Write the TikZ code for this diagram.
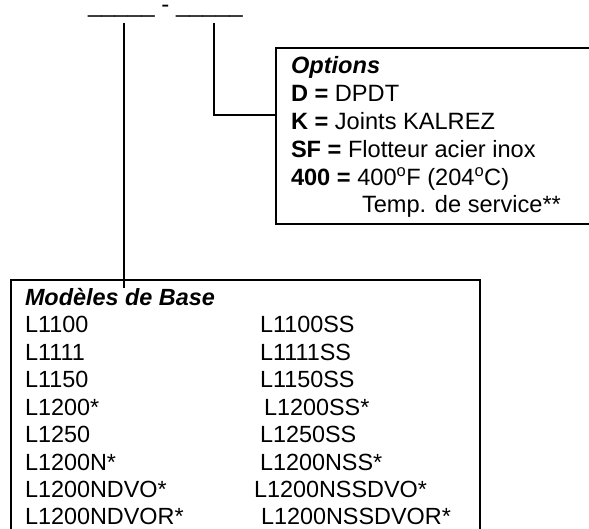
\documentclass[tikz,border=0pt]{standalone}
\usepackage{fontspec}
\setmainfont{Liberation Sans}
\begin{document}
\begin{tikzpicture}[x=1pt,y=-1pt,
  txt/.style={anchor=base west,inner sep=0pt,outer sep=0pt},
  optf/.style={font=\fontsize{23.6}{27}\selectfont},
  basef/.style={font=\fontsize{23.4}{27}\selectfont},
  boxline/.style={draw,line width=1.7pt,inner sep=0pt,anchor=north west},
  conn/.style={line width=1.3pt}]
\useasboundingbox (0,0) rectangle (589,529);
\clip (0,0) rectangle (589,529);
% code line
\node[txt,font=\fontsize{24}{28}\selectfont] (code) at (88,13) {\_\_\_\_\_ - \_\_\_\_\_};
\coordinate (ltop) at (124,23);
\coordinate (lend) at (124,288);
\coordinate (rtop) at (214,23);
\coordinate (rjoin) at (275,115);
% options box
\node[boxline,minimum width=340pt,minimum height=176pt] (optbox) at (275,47) {};
\node[txt,optf] (opt0) at (291,74) {\textbf{\textit{Options}}};
\node[txt,optf] (opt1) at (291,102) {\textbf{D =} DPDT};
\node[txt,optf] (opt2) at (291,130) {\textbf{K =} Joints KALREZ};
\node[txt,optf] (opt3) at (291,158) {\textbf{SF =} Flotteur acier inox};
\node[txt,optf] (opt4) at (291,186) {\textbf{400 =} 400\textsuperscript{o}F (204\textsuperscript{o}C)};
\node[txt,optf] (opt5) at (362,213) {Temp. de service**};
% base box
\node[boxline,minimum width=469pt,minimum height=290pt] (basebox) at (10,279) {};
\node[txt,basef] (bt) at (25,306) {\textbf{\textit{Modèles de Base}}};
\node[txt,basef] (a1) at (25,333) {L1100};
\node[txt,basef] (a2) at (25,360.4) {L1111};
\node[txt,basef] (a3) at (25,387.8) {L1150};
\node[txt,basef] (a4) at (25,415.2) {L1200*};
\node[txt,basef] (a5) at (25,442.6) {L1250};
\node[txt,basef] (a6) at (25,470) {L1200N*};
\node[txt,basef] (a7) at (25,497.4) {L1200NDVO*};
\node[txt,basef] (a8) at (25,524.8) {L1200NDVOR*};
\node[txt,basef] (b1) at (260,333) {L1100SS};
\node[txt,basef] (b2) at (260,360.4) {L1111SS};
\node[txt,basef] (b3) at (260,387.8) {L1150SS};
\node[txt,basef] (b4) at (264,415.2) {L1200SS*};
\node[txt,basef] (b5) at (260,442.6) {L1250SS};
\node[txt,basef] (b6) at (260,470) {L1200NSS*};
\node[txt,basef] (b7) at (254,497.4) {L1200NSSDVO*};
\node[txt,basef] (b8) at (261,524.8) {L1200NSSDVOR*};
% connectors
\draw[conn] (ltop) -- (lend);
\draw[conn] (rtop) |- (rjoin);
\end{tikzpicture}
\end{document}
